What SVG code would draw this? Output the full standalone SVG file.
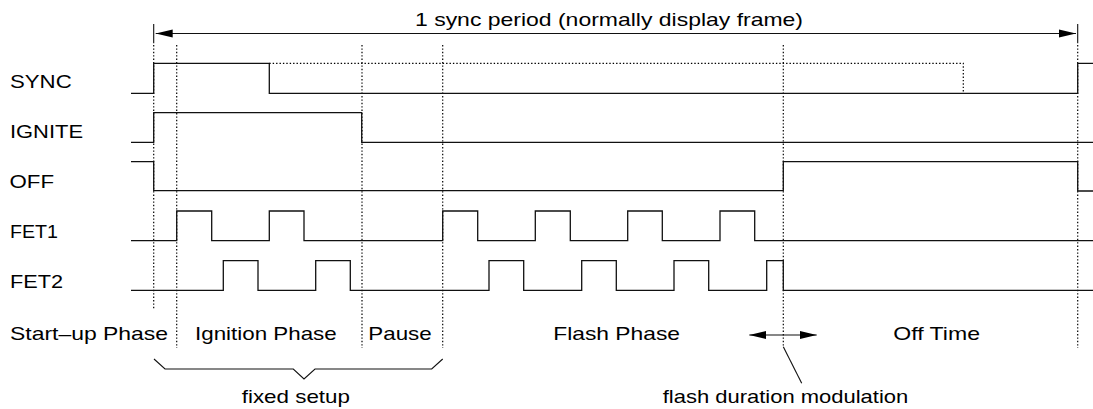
<svg xmlns="http://www.w3.org/2000/svg" width="1093" height="409" viewBox="0 0 1093 409">
<style>
text{font-family:"Liberation Sans",Arial,sans-serif;font-size:18.5px;fill:#000}
.sig{fill:none;stroke:#111;stroke-width:1.3}
.dot{fill:none;stroke:#000;stroke-width:1.2;stroke-dasharray:1.4 2}
.con{fill:none;stroke:#111;stroke-width:1.1}
</style>
<defs>
<marker id="ah" markerUnits="userSpaceOnUse" markerWidth="18" markerHeight="9" refX="17" refY="4.5" orient="auto-start-reverse" viewBox="0 0 18 9">
<path d="M0,0.5 L17,4.5 L0,8.5 z" fill="#000"/>
</marker>
</defs>
<rect width="1093" height="409" fill="#fff"/>
<g id="guides">
<path class="dot" d="M153.7,45V308.5M176.7,45V348M362,45V348M442.7,45V348M783.3,45V347M1077.7,45V348"/>
</g>
<g id="sync">
<text x="10" y="88.3" textLength="61.7" lengthAdjust="spacingAndGlyphs">SYNC</text>
<path class="sig" d="M131,93.3H153.7V63.3H269.3V93.3H1077.7V63.3H1093"/>
<path class="dot" d="M269.3,63.3H963.3V93.3"/>
</g>
<g id="ignite">
<text x="10" y="138.3" textLength="73" lengthAdjust="spacingAndGlyphs">IGNITE</text>
<path class="sig" d="M131,142.3H153.7V112.7H361.7V142.3H1093"/>
</g>
<g id="off">
<text x="9.5" y="188.3" textLength="44.5" lengthAdjust="spacingAndGlyphs">OFF</text>
<path class="sig" d="M131,161.7H153.7V190.7H783.3V161.7H1077.7V191H1093"/>
</g>
<g id="fet1">
<text x="10" y="237.7" textLength="48" lengthAdjust="spacingAndGlyphs">FET1</text>
<path class="sig" d="M131,240.7H176.7V211H211.7V240.7H269.3V211H304V240.7H442.7V211H477.7V240.7H535.3V211H570.3V240.7H627.7V211H662.3V240.7H720V211H754.7V240.7H1093"/>
</g>
<g id="fet2">
<text x="10" y="287.7" textLength="53" lengthAdjust="spacingAndGlyphs">FET2</text>
<path class="sig" d="M131,290.3H223.3V260.7H258V290.3H315.7V260.7H350.3V290.3H489V260.7H523.7V290.3H581.7V260.7H616.3V290.3H674V260.7H708.7V290.3H766.7V260.7H783.3V290.3H1093"/>
</g>
<g id="period">
<text x="415" y="26" textLength="388" lengthAdjust="spacingAndGlyphs">1 sync period (normally display frame)</text>
</g>
<g id="phases">
<text x="10" y="339.5" textLength="158" lengthAdjust="spacingAndGlyphs">Start–up Phase</text>
<text x="195" y="339.5" textLength="141.7" lengthAdjust="spacingAndGlyphs">Ignition Phase</text>
<text x="368.3" y="339.5" textLength="63.4" lengthAdjust="spacingAndGlyphs">Pause</text>
<text x="553.3" y="339.5" textLength="126.7" lengthAdjust="spacingAndGlyphs">Flash Phase</text>
<text x="893.3" y="339.5" textLength="86.7" lengthAdjust="spacingAndGlyphs">Off Time</text>
</g>
<g id="fixed-setup">
<text x="241.7" y="403" textLength="108.3" lengthAdjust="spacingAndGlyphs">fixed setup</text>
</g>
<g id="modulation">
<text x="662.7" y="403" textLength="245.6" lengthAdjust="spacingAndGlyphs">flash duration modulation</text>
</g>
<g id="connectors">
<path class="con" d="M153.7,24V43.3M1077.7,24V43.3"/>
<path class="con" stroke="#444" stroke-width="1.6" d="M155.7,33.5H1076" marker-start="url(#ah)" marker-end="url(#ah)"/>
<path class="con" d="M154,359L165,369H293.3L304,379L315,369H431.7L442.7,359"/>
<path class="con" d="M749.3,335H816.7" marker-start="url(#ah)" marker-end="url(#ah)"/>
<path class="con" d="M783.3,346.7L801.7,383.3"/>
</g>
</svg>
